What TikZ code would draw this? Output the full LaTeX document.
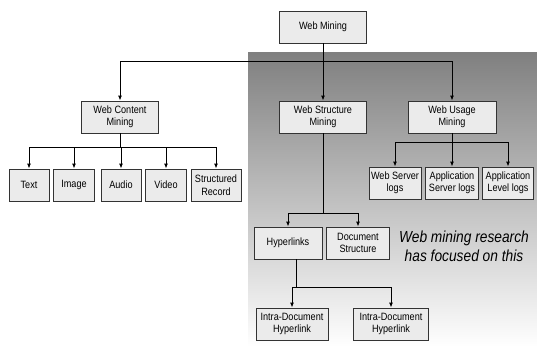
\documentclass[tikz,border=0pt]{standalone}
\usepackage{fontspec}
\setmainfont{Liberation Sans}[FakeStretch=0.86]
\usetikzlibrary{arrows.meta}
\definecolor{boxfill}{HTML}{EBEBEB}
\definecolor{shade}{HTML}{C8C8CA}
\definecolor{boxline}{HTML}{333333}

\begin{document}
\begin{tikzpicture}[x=1pt, y=-1pt,
	box/.style={draw=boxline, line width=0.8pt, fill=boxfill, align=center,
		inner sep=1pt, minimum height=32pt, font=\fontsize{10.6}{12.5}\selectfont},
	link/.style={line width=1pt},
	arr/.style={link, -{Latex[length=5pt, width=4pt]}}]

\useasboundingbox (0, 0) rectangle (537, 349);
\fill[shade] (248, 52) rectangle (537, 347);

\node[box, minimum width=87pt] (wm) at (323, 27) {Web Mining};
\node[box, minimum width=77pt] (content) at (120, 117) {Web Content\\Mining};
\node[box, minimum width=87pt] (ws) at (323, 117) {Web Structure\\Mining};
\node[box, minimum width=88pt] (usage) at (452, 117) {Web Usage\\Mining};

\foreach \n/\x/\w/\t in {
	text/29/40/{Text},
	image/74/41/{Image},
	audio/121/40/{Audio},
	video/166/41/{Video},
	rec/216/50/{Structured\\Record}}
\node[box, minimum width=\w pt] (\n) at (\x, 185) {\t};

\foreach \n/\x/\w/\t in {
	server/395/52/{Web Server\\logs},
	appserver/452/53/{Application\\Server logs},
	applevel/508/51/{Application\\Level logs}}
\node[box, minimum width=\w pt] (\n) at (\x, 183) {\t};

\node[box, minimum width=68pt] (hyp) at (288, 243) {Hyperlinks};
\node[box, minimum width=63pt] (doc) at (358, 243) {Document\\Structure};
\node[box, minimum width=72pt] (intra1) at (292, 324) {Intra-Document\\Hyperlink};
\node[box, minimum width=75pt] (intra2) at (391, 324) {Intra-Document\\Hyperlink};

\node[align=center, font=\itshape\fontsize{16}{19}\selectfont] (note) at (464, 246)
	{Web mining research\\has focused on this};

\coordinate (top) at (323, 61);
\draw[link] (wm) -- (top);
\draw[arr] (top) -| (content);
\draw[arr] (top) -- (ws);
\draw[arr] (top) -| (usage);

\coordinate (cbar) at (120, 147);
\draw[link] (content) -- (cbar);
\foreach \n in {text, image, audio, video, rec}
\draw[arr] (cbar) -| (\n);

\coordinate (ubar) at (452, 142);
\draw[link] (usage) -- (ubar);
\foreach \n in {server, appserver, applevel}
\draw[arr] (ubar) -| (\n);

\coordinate (sbar) at (323, 213);
\draw[link] (ws) -- (sbar);
\draw[arr] (sbar) -| (hyp);
\draw[arr] (sbar) -| (doc);

\coordinate (hbar) at (296, 287);
\draw[link] (hyp.south -| hbar) -- (hbar);
\draw[arr] (hbar) -| (intra1);
\draw[arr] (hbar) -| (intra2);

\end{tikzpicture}
\end{document}
